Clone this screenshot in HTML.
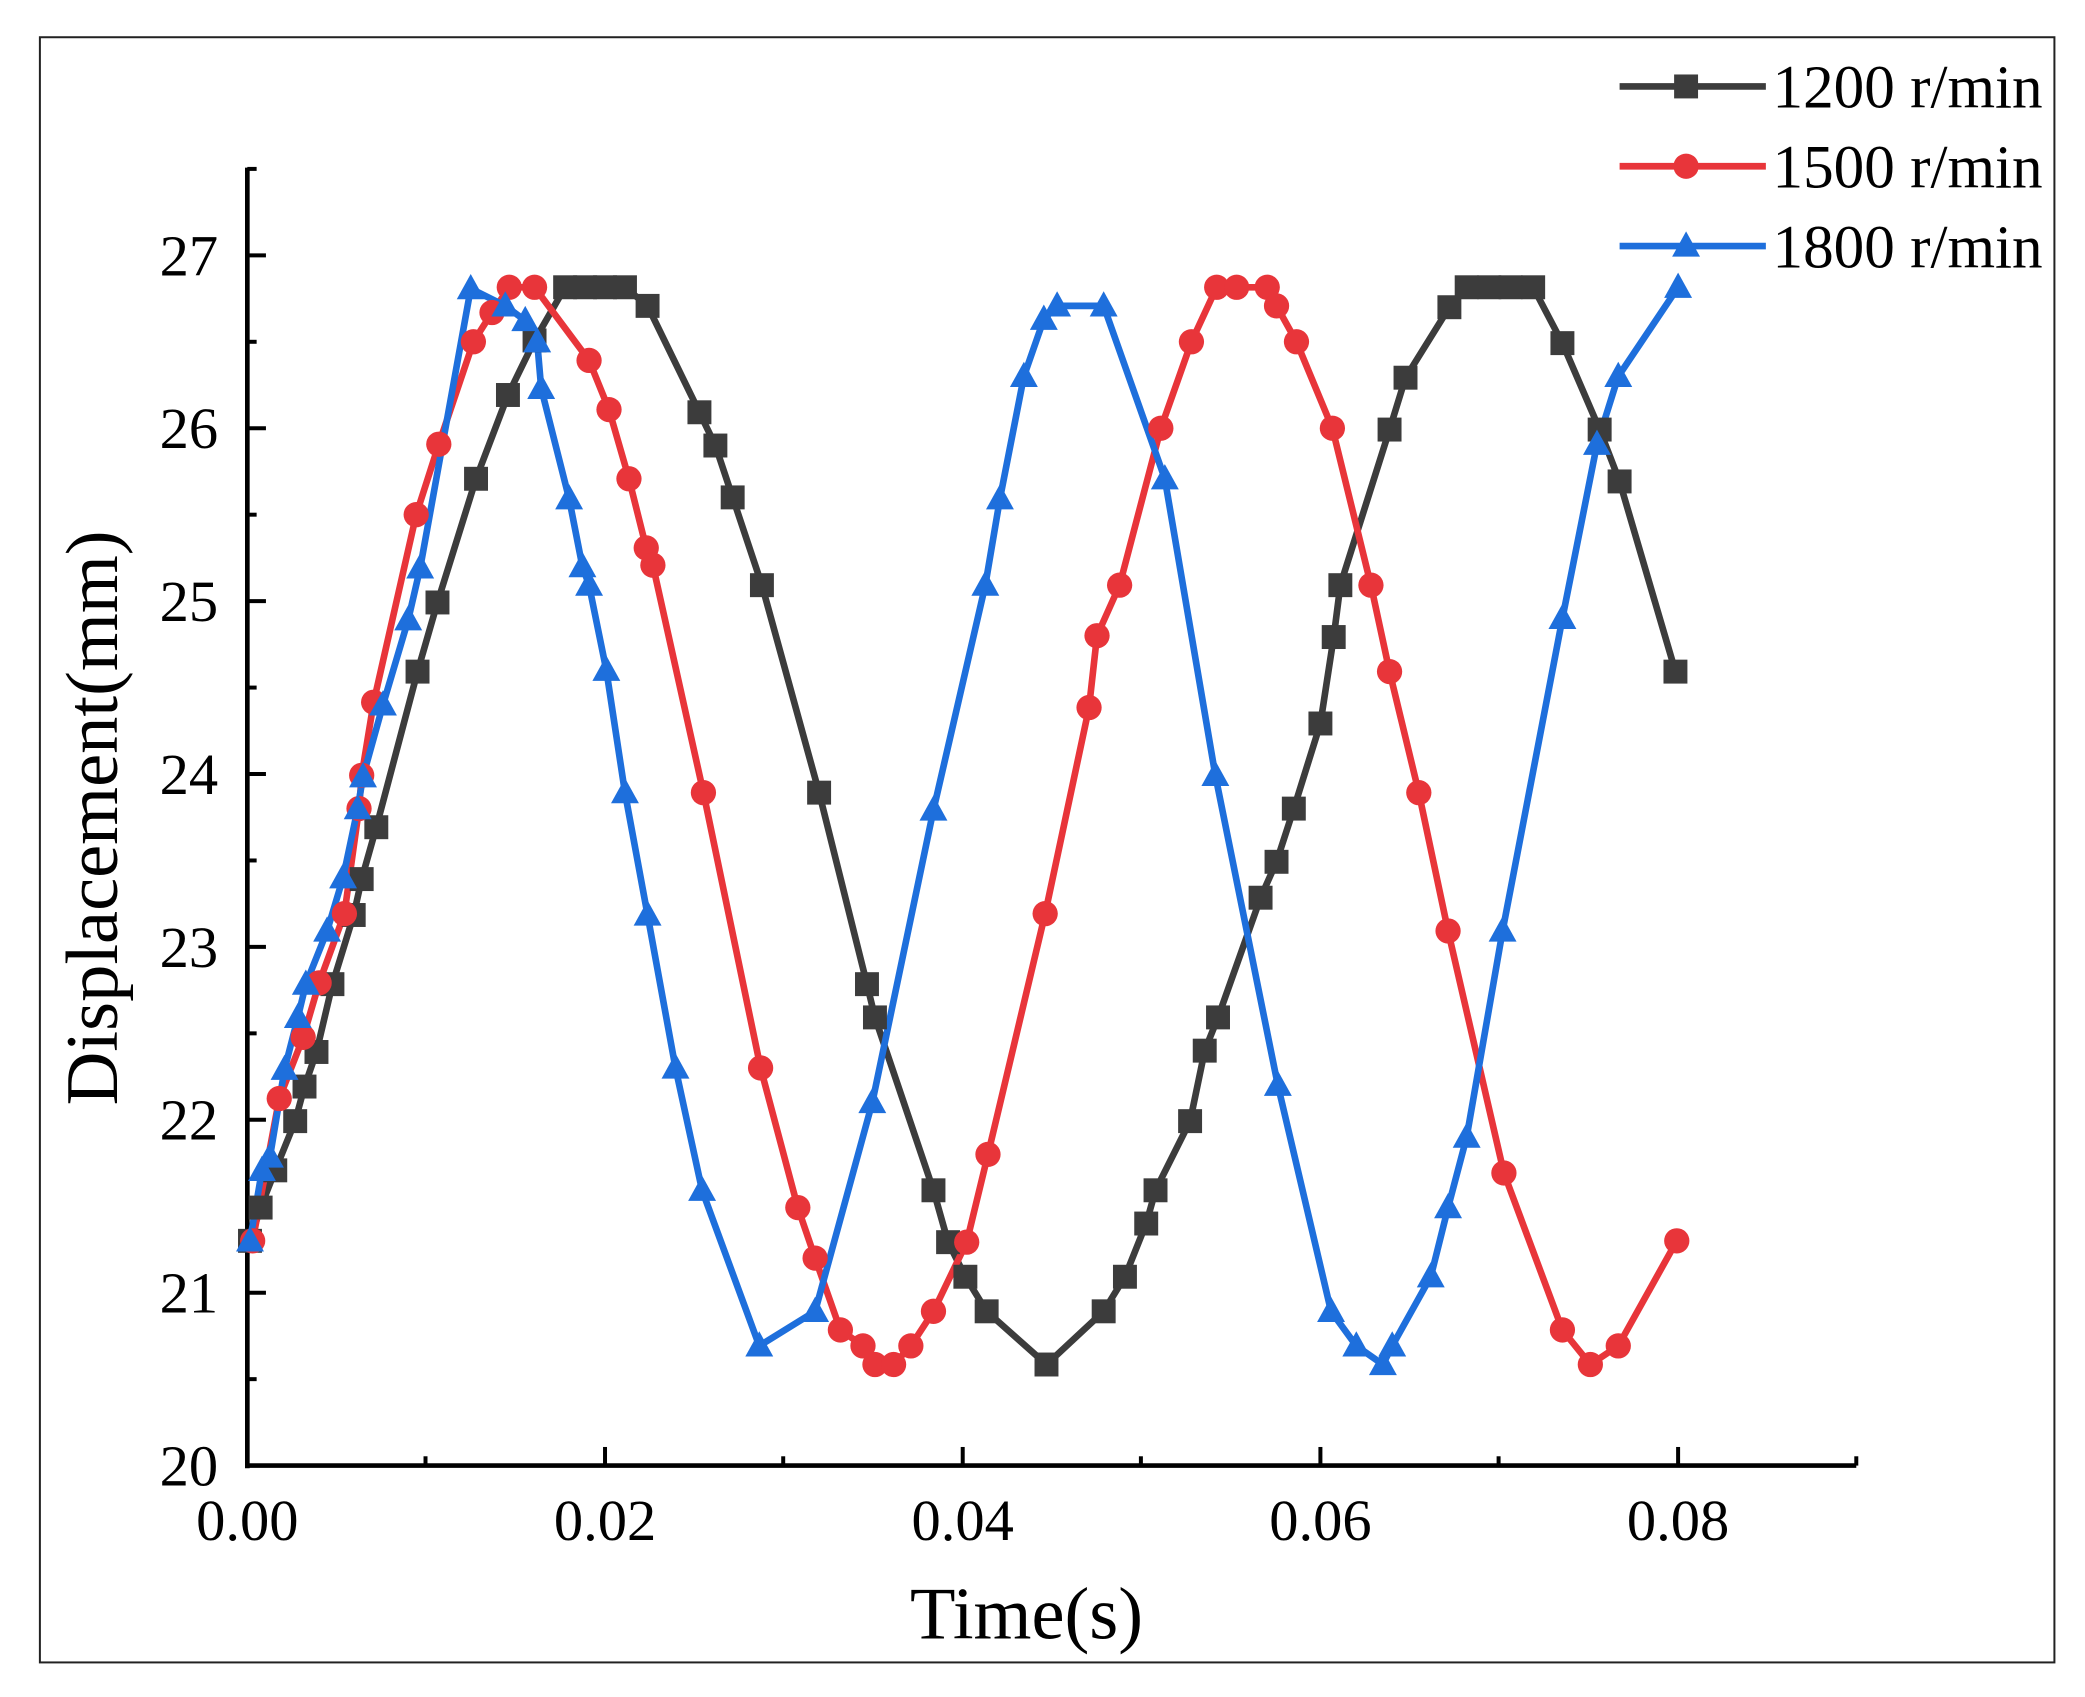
<!DOCTYPE html>
<html><head><meta charset="utf-8"><style>
html,body{margin:0;padding:0;background:#fff;}
svg{display:block;}
text{font-family:"Liberation Serif","DejaVu Serif",serif;fill:#000;}
</style></head><body>
<svg width="2085" height="1697" viewBox="0 0 1568 1276" preserveAspectRatio="none" xmlns="http://www.w3.org/2000/svg">
<defs>
<rect id="sq" x="-9" y="-9" width="18" height="18" fill="#3c3c3c"/>
<circle id="ci" r="9.5" fill="#e8353a"/>
<polygon id="tr" points="0,-11 10.5,8 -10.5,8" fill="#1e6fdc"/>
</defs>
<rect x="30" y="28" width="1515" height="1222" fill="none" stroke="#222" stroke-width="1.5"/>
<g stroke="#000" stroke-width="3.5" fill="none">
<line x1="186" y1="126" x2="186" y2="1104"/>
<line x1="184.5" y1="1102" x2="1396" y2="1102"/>
<g stroke-width="3">
<line x1="186" y1="192" x2="200" y2="192"/><line x1="186" y1="322" x2="200" y2="322"/><line x1="186" y1="452" x2="200" y2="452"/><line x1="186" y1="582" x2="200" y2="582"/><line x1="186" y1="712" x2="200" y2="712"/><line x1="186" y1="842" x2="200" y2="842"/><line x1="186" y1="972" x2="200" y2="972"/>
<line x1="186" y1="127" x2="193" y2="127"/><line x1="186" y1="257" x2="193" y2="257"/><line x1="186" y1="387" x2="193" y2="387"/><line x1="186" y1="517" x2="193" y2="517"/><line x1="186" y1="647" x2="193" y2="647"/><line x1="186" y1="777" x2="193" y2="777"/><line x1="186" y1="907" x2="193" y2="907"/><line x1="186" y1="1037" x2="193" y2="1037"/>
<line x1="455" y1="1102" x2="455" y2="1088"/><line x1="724" y1="1102" x2="724" y2="1088"/><line x1="993" y1="1102" x2="993" y2="1088"/><line x1="1262" y1="1102" x2="1262" y2="1088"/>
<line x1="320" y1="1102" x2="320" y2="1095"/><line x1="589" y1="1102" x2="589" y2="1095"/><line x1="858" y1="1102" x2="858" y2="1095"/><line x1="1127" y1="1102" x2="1127" y2="1095"/><line x1="1396" y1="1102" x2="1396" y2="1095"/>
</g></g>
<g font-size="44" text-anchor="end">
<text x="164" y="207">27</text><text x="164" y="337">26</text><text x="164" y="467">25</text><text x="164" y="597">24</text><text x="164" y="727">23</text><text x="164" y="857">22</text><text x="164" y="987">21</text><text x="164" y="1117">20</text>
</g>
<g font-size="44" text-anchor="middle">
<text x="186" y="1158">0.00</text><text x="455" y="1158">0.02</text><text x="724" y="1158">0.04</text><text x="993" y="1158">0.06</text><text x="1262" y="1158">0.08</text>
</g>
<text x="772" y="1232" font-size="56" text-anchor="middle">Time(s)</text>
<text transform="translate(88,615) rotate(-90)" font-size="56" text-anchor="middle">Displacement(mm)</text>
<polyline fill="none" stroke="#3c3c3c" stroke-width="5" stroke-linejoin="round" points="188,933 196,908 207,880 222,843 229,817 238,791 250,740 266,688 272,661 283,622 314,505 329,453 358,360 382,297 402,256 425,216 440,216 455,216 470,216 487,230 526,310 538,335 551,374 573,440 616,596 652,740 658,765 702,895 713,934 726,960 742,986 787,1026 830,986 846,960 862,920 869,895 895,843 906,790 916,765 948,675 960,648 973,608 993,544 1003,479 1008,440 1045,323 1057,284 1090,231 1103,216 1120,216 1136,216 1153,216 1175,258 1203,323 1218,362 1260,505"/>
<polyline fill="none" stroke="#e8353a" stroke-width="5" stroke-linejoin="round" points="190,933 210,826 228,780 240,739 259,687 270,608 272,583 281,528 313,387 330,334 356,257 370,235 383,216 402,216 443,271 458,308 473,360 486,412 491,425 529,596 572,803 600,908 613,946 632,1000 649,1012 658,1026 672,1026 685,1012 702,986 727,934 743,868 786,687 819,532 825,478 842,440 873,322 896,257 915,216 930,216 953,216 960,230 975,257 1002,322 1031,440 1045,505 1067,596 1089,700 1131,882 1175,1000 1196,1026 1217,1012 1261,933"/>
<polyline fill="none" stroke="#1e6fdc" stroke-width="5" stroke-linejoin="round" points="188,933 197,880 203,870 214,804 224,765 230,740 246,700 258,660 269,608 273,584 288,530 307,466 316,427 354,217 380,230 395,241 404,257 407,292 428,375 438,426 443,440 456,504 470,596 487,688 508,803 528,895 571,1012 613,986 656,829 702,609 741,440 752,375 770,283 785,240 795,230 830,230 876,360 914,583 961,816 1001,986 1020,1012 1040,1026 1047,1012 1076,960 1089,908 1103,855 1130,700 1175,465 1201,334 1217,283 1262,216"/>
<g>
<use href="#sq" x="188" y="933"/><use href="#sq" x="196" y="908"/><use href="#sq" x="207" y="880"/><use href="#sq" x="222" y="843"/><use href="#sq" x="229" y="817"/><use href="#sq" x="238" y="791"/><use href="#sq" x="250" y="740"/><use href="#sq" x="266" y="688"/><use href="#sq" x="272" y="661"/><use href="#sq" x="283" y="622"/><use href="#sq" x="314" y="505"/><use href="#sq" x="329" y="453"/><use href="#sq" x="358" y="360"/><use href="#sq" x="382" y="297"/><use href="#sq" x="402" y="256"/><use href="#sq" x="425" y="216"/><use href="#sq" x="440" y="216"/><use href="#sq" x="455" y="216"/><use href="#sq" x="470" y="216"/><use href="#sq" x="487" y="230"/><use href="#sq" x="526" y="310"/><use href="#sq" x="538" y="335"/><use href="#sq" x="551" y="374"/><use href="#sq" x="573" y="440"/><use href="#sq" x="616" y="596"/><use href="#sq" x="652" y="740"/><use href="#sq" x="658" y="765"/><use href="#sq" x="702" y="895"/><use href="#sq" x="713" y="934"/><use href="#sq" x="726" y="960"/><use href="#sq" x="742" y="986"/><use href="#sq" x="787" y="1026"/><use href="#sq" x="830" y="986"/><use href="#sq" x="846" y="960"/><use href="#sq" x="862" y="920"/><use href="#sq" x="869" y="895"/><use href="#sq" x="895" y="843"/><use href="#sq" x="906" y="790"/><use href="#sq" x="916" y="765"/><use href="#sq" x="948" y="675"/><use href="#sq" x="960" y="648"/><use href="#sq" x="973" y="608"/><use href="#sq" x="993" y="544"/><use href="#sq" x="1003" y="479"/><use href="#sq" x="1008" y="440"/><use href="#sq" x="1045" y="323"/><use href="#sq" x="1057" y="284"/><use href="#sq" x="1090" y="231"/><use href="#sq" x="1103" y="216"/><use href="#sq" x="1120" y="216"/><use href="#sq" x="1136" y="216"/><use href="#sq" x="1153" y="216"/><use href="#sq" x="1175" y="258"/><use href="#sq" x="1203" y="323"/><use href="#sq" x="1218" y="362"/><use href="#sq" x="1260" y="505"/>
</g>
<g>
<use href="#ci" x="190" y="933"/><use href="#ci" x="210" y="826"/><use href="#ci" x="228" y="780"/><use href="#ci" x="240" y="739"/><use href="#ci" x="259" y="687"/><use href="#ci" x="270" y="608"/><use href="#ci" x="272" y="583"/><use href="#ci" x="281" y="528"/><use href="#ci" x="313" y="387"/><use href="#ci" x="330" y="334"/><use href="#ci" x="356" y="257"/><use href="#ci" x="370" y="235"/><use href="#ci" x="383" y="216"/><use href="#ci" x="402" y="216"/><use href="#ci" x="443" y="271"/><use href="#ci" x="458" y="308"/><use href="#ci" x="473" y="360"/><use href="#ci" x="486" y="412"/><use href="#ci" x="491" y="425"/><use href="#ci" x="529" y="596"/><use href="#ci" x="572" y="803"/><use href="#ci" x="600" y="908"/><use href="#ci" x="613" y="946"/><use href="#ci" x="632" y="1000"/><use href="#ci" x="649" y="1012"/><use href="#ci" x="658" y="1026"/><use href="#ci" x="672" y="1026"/><use href="#ci" x="685" y="1012"/><use href="#ci" x="702" y="986"/><use href="#ci" x="727" y="934"/><use href="#ci" x="743" y="868"/><use href="#ci" x="786" y="687"/><use href="#ci" x="819" y="532"/><use href="#ci" x="825" y="478"/><use href="#ci" x="842" y="440"/><use href="#ci" x="873" y="322"/><use href="#ci" x="896" y="257"/><use href="#ci" x="915" y="216"/><use href="#ci" x="930" y="216"/><use href="#ci" x="953" y="216"/><use href="#ci" x="960" y="230"/><use href="#ci" x="975" y="257"/><use href="#ci" x="1002" y="322"/><use href="#ci" x="1031" y="440"/><use href="#ci" x="1045" y="505"/><use href="#ci" x="1067" y="596"/><use href="#ci" x="1089" y="700"/><use href="#ci" x="1131" y="882"/><use href="#ci" x="1175" y="1000"/><use href="#ci" x="1196" y="1026"/><use href="#ci" x="1217" y="1012"/><use href="#ci" x="1261" y="933"/>
</g>
<g>
<use href="#tr" x="188" y="933"/><use href="#tr" x="197" y="880"/><use href="#tr" x="203" y="870"/><use href="#tr" x="214" y="804"/><use href="#tr" x="224" y="765"/><use href="#tr" x="230" y="740"/><use href="#tr" x="246" y="700"/><use href="#tr" x="258" y="660"/><use href="#tr" x="269" y="608"/><use href="#tr" x="273" y="584"/><use href="#tr" x="288" y="530"/><use href="#tr" x="307" y="466"/><use href="#tr" x="316" y="427"/><use href="#tr" x="354" y="217"/><use href="#tr" x="380" y="230"/><use href="#tr" x="395" y="241"/><use href="#tr" x="404" y="257"/><use href="#tr" x="407" y="292"/><use href="#tr" x="428" y="375"/><use href="#tr" x="438" y="426"/><use href="#tr" x="443" y="440"/><use href="#tr" x="456" y="504"/><use href="#tr" x="470" y="596"/><use href="#tr" x="487" y="688"/><use href="#tr" x="508" y="803"/><use href="#tr" x="528" y="895"/><use href="#tr" x="571" y="1012"/><use href="#tr" x="613" y="986"/><use href="#tr" x="656" y="829"/><use href="#tr" x="702" y="609"/><use href="#tr" x="741" y="440"/><use href="#tr" x="752" y="375"/><use href="#tr" x="770" y="283"/><use href="#tr" x="785" y="240"/><use href="#tr" x="795" y="230"/><use href="#tr" x="830" y="230"/><use href="#tr" x="876" y="360"/><use href="#tr" x="914" y="583"/><use href="#tr" x="961" y="816"/><use href="#tr" x="1001" y="986"/><use href="#tr" x="1020" y="1012"/><use href="#tr" x="1040" y="1026"/><use href="#tr" x="1047" y="1012"/><use href="#tr" x="1076" y="960"/><use href="#tr" x="1089" y="908"/><use href="#tr" x="1103" y="855"/><use href="#tr" x="1130" y="700"/><use href="#tr" x="1175" y="465"/><use href="#tr" x="1201" y="334"/><use href="#tr" x="1217" y="283"/><use href="#tr" x="1262" y="216"/>
</g>
<line x1="1218" y1="65" x2="1328" y2="65" stroke="#3c3c3c" stroke-width="5"/><use href="#sq" x="1268" y="65"/>
<line x1="1218" y1="125" x2="1328" y2="125" stroke="#e8353a" stroke-width="5"/><use href="#ci" x="1268" y="125"/>
<line x1="1218" y1="185" x2="1328" y2="185" stroke="#1e6fdc" stroke-width="5"/><use href="#tr" x="1268" y="185"/>
<g font-size="46">
<text x="1333" y="81">1200 r/min</text>
<text x="1333" y="141">1500 r/min</text>
<text x="1333" y="201">1800 r/min</text>
</g>
</svg>
</body></html>
